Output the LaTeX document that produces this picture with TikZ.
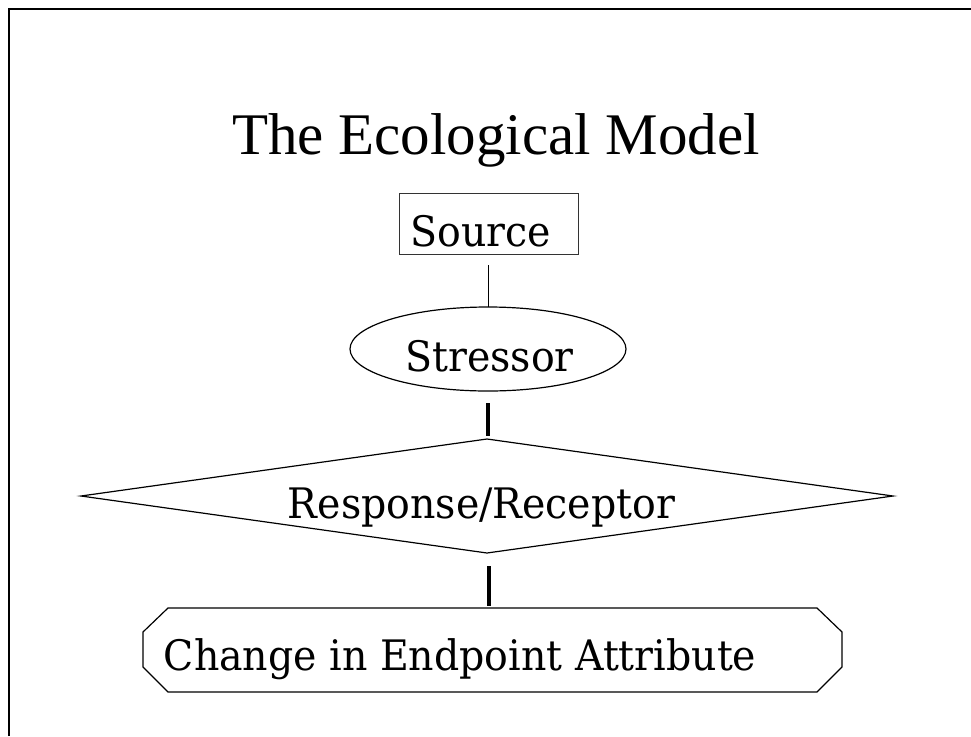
\documentclass[tikz,border=0pt]{standalone}
\usepackage{fontspec}
\setmainfont{Liberation Serif}
\newfontfamily\labfont[FakeStretch=0.94]{DejaVu Serif}
\usetikzlibrary{shapes.geometric}
\begin{document}
\begin{tikzpicture}[x=1pt,y=-1pt,
  shapeline/.style={draw=black,line width=1.2pt,inner sep=0pt,outer sep=0pt},
  labtext/.style={anchor=base,inner sep=0pt,font=\labfont\fontsize{42}{50}\selectfont},
  thinlink/.style={draw=black,line width=1pt},
  thicklink/.style={draw=black,line width=4pt}]
\useasboundingbox (0,0) rectangle (971,736);
% frame
\draw[line width=1.6pt] (9,736) -- (9,9) -- (971,9);
% title
\node[anchor=base west,inner sep=0pt,font=\fontsize{59}{66}\selectfont] (title) at (232,154) {The Ecological Model};
% shapes
\node[shapeline,rectangle,line width=1pt,draw=black!80,minimum width=179pt,minimum height=61pt] (source) at (488.5,223.5) {};
\node[shapeline,ellipse,minimum width=276pt,minimum height=84pt] (stressor) at (488,349) {};
\node[shapeline,diamond,minimum width=812pt,minimum height=114pt] (resp) at (487,496) {};
\node[inner sep=0pt,outer sep=0pt,minimum width=699pt,minimum height=84pt] (change) at (492.5,650) {};
\draw[line width=1.2pt] (168,608) -- (817,608) -- (842,632) -- (842,667) -- (817,692)
  -- (168,692) -- (143,667) -- (143,632) -- cycle;
% texts
\node[labtext] (sourcet) at (480.5,246) {Source};
\node[labtext] (stressort) at (489.5,371) {Stressor};
\node[labtext] (respt) at (481.5,518) {Response/Receptor};
\node[labtext] (changet) at (460,670) {Change in Endpoint Attribute};
% connectors
\coordinate (c1) at (488,265);
\draw[thinlink] (c1) -- (stressor.north);
\coordinate (c2a) at (488,403);
\coordinate (c2b) at (488,436);
\draw[thicklink] (c2a) -- (c2b);
\coordinate (c3a) at (489,566);
\coordinate (c3b) at (489,606);
\draw[thicklink] (c3a) -- (c3b);
\end{tikzpicture}
\end{document}
